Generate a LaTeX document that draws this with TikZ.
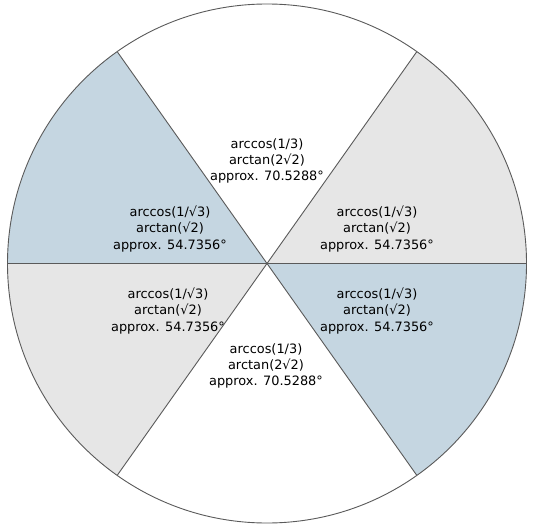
\documentclass[tikz,border=0pt]{standalone}
\usepackage{fontspec}
\setmainfont{DejaVu Sans}
\usetikzlibrary{calc}
\definecolor{secblue}{HTML}{C5D6E1}
\definecolor{secgray}{HTML}{E6E6E6}
\definecolor{edge}{HTML}{5A5A5A}
\begin{document}
\begin{tikzpicture}[x=1pt,y=1pt,
  lbl/.style={align=center,inner sep=0pt,font=\fontsize{12.9}{16.3}\selectfont},
  edgeline/.style={draw=edge,line width=0.9pt}]
\useasboundingbox (0,0) rectangle (534,528);
\fill[white] (0,0) rectangle (534,528);
\coordinate (c) at (267,264.5);
\def\R{259.5}
\def\A{54.7356}
% sectors
\fill[secblue] (c) -- ++(180-\A:\R) arc[start angle=180-\A,end angle=180,radius=\R] -- cycle;
\fill[secgray] (c) -- ++(0:\R) arc[start angle=0,end angle=\A,radius=\R] -- cycle;
\fill[secblue] (c) -- ++(-\A:\R) arc[start angle=-\A,end angle=0,radius=\R] -- cycle;
\fill[secgray] (c) -- ++(180:\R) arc[start angle=180,end angle=180+\A,radius=\R] -- cycle;
% boundary points
\coordinate (p1) at ($(c)+(\A:\R)$);
\coordinate (p2) at ($(c)+(180-\A:\R)$);
\coordinate (p3) at ($(c)+(180:\R)$);
\coordinate (p4) at ($(c)+(180+\A:\R)$);
\coordinate (p5) at ($(c)+(-\A:\R)$);
\coordinate (p0) at ($(c)+(0:\R)$);
\draw[edgeline] (p1) -- (p4);
\draw[edgeline] (p2) -- (p5);
\draw[edgeline] (p3) -- (p0);
\draw[edgeline] (c) circle[radius=\R];
% labels
\node[lbl] (top) at (267,367) {arccos(1/3)\\arctan(2√2)\\approx. 70.5288°};
\node[lbl] (ul) at (170,299) {arccos(1/√3)\\arctan(√2)\\approx. 54.7356°};
\node[lbl] (ur) at (377,299) {arccos(1/√3)\\arctan(√2)\\approx. 54.7356°};
\node[lbl] (ll) at (168,217) {arccos(1/√3)\\arctan(√2)\\approx. 54.7356°};
\node[lbl] (lr) at (377,217) {arccos(1/√3)\\arctan(√2)\\approx. 54.7356°};
\node[lbl] (bot) at (266,162) {arccos(1/3)\\arctan(2√2)\\approx. 70.5288°};
\end{tikzpicture}
\end{document}
